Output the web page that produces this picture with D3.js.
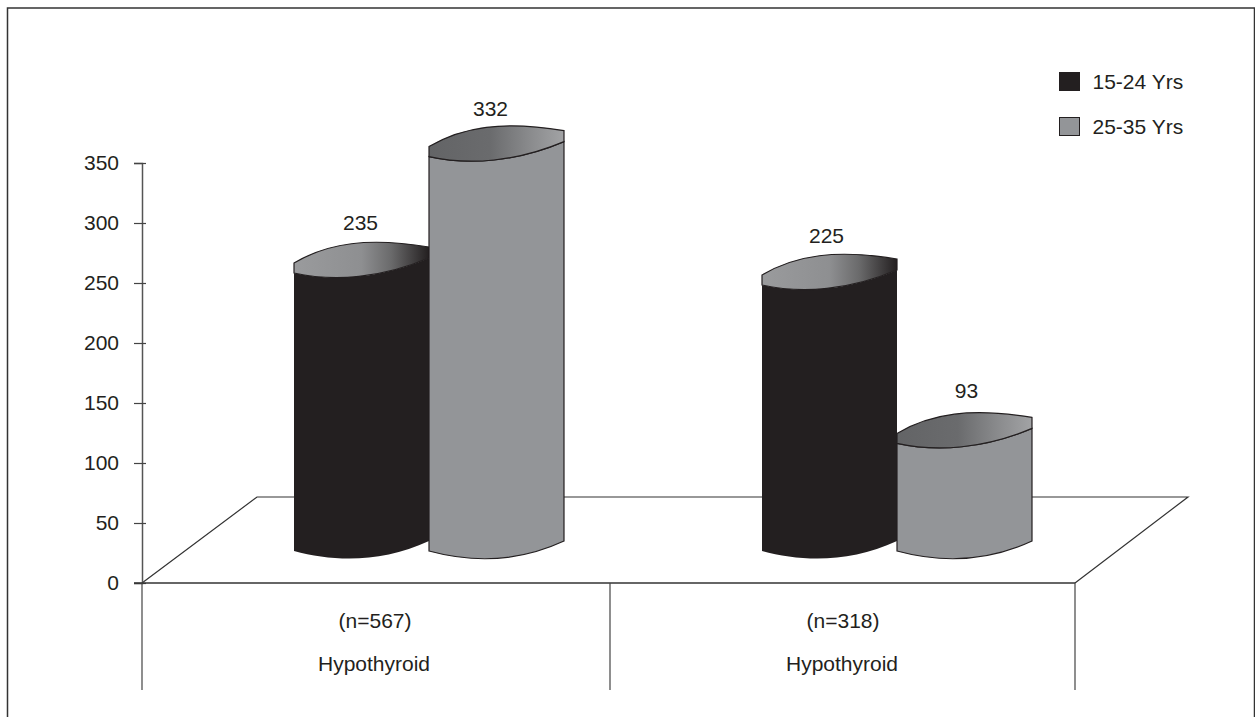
<!DOCTYPE html>
<html>
<head>
<meta charset="utf-8">
<script src="https://cdn.jsdelivr.net/npm/d3@7"></script>
<style>
  html, body { margin: 0; padding: 0; background: #fff; }
  svg { display: block; }
  text { font-family: "Liberation Sans", Arial, sans-serif; font-size: 21px; fill: #231f20; }
</style>
</head>
<body>
<svg id="chart" width="1255" height="717"></svg>
<script>
const categories = ['(n=567)', '(n=318)'];
const categoryName = ['Hypothyroid', 'Hypothyroid'];
const seriesNames = ['15-24 Yrs', '25-35 Yrs'];
const series1 = [235, 225];
const series2 = [332, 93];
const yTicks = [0, 50, 100, 150, 200, 250, 300, 350];

const W = 1255, H = 717;
const svg = d3.select('#chart');

const y = d3.scaleLinear().domain([0, 350]).range([583, 163]);
const x0 = d3.scaleBand().domain(d3.range(categories.length)).range([142, 1078]);
const x1 = d3.scaleBand().domain(d3.range(seriesNames.length)).range([152, 422]);
const floorDepth = { dx: 115, dy: -86 };
const LIFT = -28;        // bars stand part way back on the floor
const BASE_Y = 551;

const barColor = ['#231f20', '#939598'];
// hand nudges for the value labels, [dx, gap above bar], per series then category
const labelNudge = [[[0, 43], [-2, 42]], [[-5, 40.6], [3, 45]]];

// Gradients for the bar tops
const defs = svg.append('defs');
function topGradient(id, stops) {
  const g = defs.append('linearGradient').attr('id', id)
    .attr('x1', 0).attr('y1', 0).attr('x2', 1).attr('y2', 0);
  stops.forEach(s => g.append('stop').attr('offset', s[0]).attr('stop-color', s[1]));
}
topGradient('top-dark', [[0, '#9a9b9d'], [0.5, '#8e8f91'], [0.72, '#6a6a6b'], [1, '#231f20']]);
topGradient('top-grey', [[0, '#636466'], [0.45, '#6a6b6d'], [0.75, '#8a8b8d'], [1, '#a2a3a5']]);

// Outer frame
svg.append('path').attr('d', `M7.5,${H}V8H1254.5V${H}`)
  .attr('fill', 'none').attr('stroke', '#333').attr('stroke-width', 1.5);

// Floor
const fx0 = x0.range()[0], fx1 = x0.range()[1] - 3, fy = y(0);
svg.append('path')
  .attr('d', d3.line()([
    [fx0, fy],
    [fx0 + floorDepth.dx, fy + floorDepth.dy],
    [fx1 + floorDepth.dx - 2, fy + floorDepth.dy],
    [fx1, fy]
  ]))
  .attr('fill', 'none').attr('stroke', '#333').attr('stroke-width', 1.2);

// Y axis
const axisG = svg.append('g').attr('transform', `translate(${fx0},0)`)
  .call(d3.axisLeft(y).tickValues(yTicks).tickSize(8).tickPadding(15));
axisG.select('.domain').attr('stroke', '#555').attr('stroke-width', 1.5);
axisG.selectAll('.tick line').attr('x2', 4).attr('x1', -8).attr('stroke', '#444').attr('stroke-width', 1.2);
axisG.selectAll('.tick text').style('font-size', '21px').style('font-family', '"Liberation Sans", Arial, sans-serif').attr('fill', '#231f20');

// Category axis table
const catG = svg.append('g');
catG.append('line').attr('x1', fx0 - 8).attr('x2', fx1).attr('y1', fy).attr('y2', fy)
  .attr('stroke', '#333').attr('stroke-width', 1.4);
catG.selectAll('line.sep').data([...x0.domain().map(d => x0(d)), fx1]).join('line')
  .attr('class', 'sep')
  .attr('x1', d => d).attr('x2', d => d)
  .attr('y1', fy).attr('y2', 690)
  .attr('stroke', '#444').attr('stroke-width', 1.2);
catG.selectAll('text.n').data(categories).join('text')
  .attr('class', 'n').attr('text-anchor', 'middle')
  .attr('x', (d, i) => x0(i) + x0.bandwidth() / 2 - 1).attr('y', 628)
  .text(d => d);
catG.selectAll('text.name').data(categoryName).join('text')
  .attr('class', 'name').attr('text-anchor', 'middle')
  .attr('x', (d, i) => x0(i) + x0.bandwidth() / 2 - 2).attr('y', 671)
  .text(d => d);

// ── Bars ────────────────────────────────────────────────────────────────
function drawBar(g, xPos, w, value, s, nudge) {
  const top = y(value) + LIFT;
  const bar = g.append('g').attr('transform', `translate(${xPos},${top})`);
  const bottom = BASE_Y - top;
  const stroke = s === 0 ? 'none' : '#231f20';
  bar.append('path')
    .attr('d', `M0,0C${w * 0.3},9 ${w * 0.65},5 ${w},-15V${bottom - 10}C${w * 0.65},${bottom + 12} ${w * 0.3},${bottom + 11} 0,${bottom}Z`)
    .attr('fill', barColor[s]).attr('stroke', stroke).attr('stroke-width', 1.2);
  bar.append('path')
    .attr('d', `M0,0V-10C${w * 0.25},-30 ${w * 0.55},-36 ${w},-26V-15C${w * 0.65},5 ${w * 0.3},9 0,0Z`)
    .attr('fill', `url(#${s === 0 ? 'top-dark' : 'top-grey'})`)
    .attr('stroke', '#231f20').attr('stroke-width', 1.2);
  g.append('text').attr('text-anchor', 'middle')
    .attr('x', xPos + w / 2 - 1 + nudge[0]).attr('y', top - nudge[1])
    .text(value);
}

[series1, series2].forEach((vals, s) => {
  vals.forEach((v, i) => {
    const g = svg.append('g').attr('class', 'bar');
    drawBar(g, x0(i) + x1(s), x1.bandwidth(), v, s, labelNudge[s][i]);
  });
});

// Legend
const legend = svg.append('g').selectAll('g').data(seriesNames).join('g')
  .attr('transform', (d, i) => `translate(1059.5,${72.5 + i * 45})`);
legend.append('rect').attr('width', 20).attr('height', 18)
  .attr('fill', (d, i) => barColor[i]).attr('stroke', '#231f20').attr('stroke-width', 1);
legend.append('text').attr('x', 33).attr('y', 16).text(d => d);
</script>
</body>
</html>
